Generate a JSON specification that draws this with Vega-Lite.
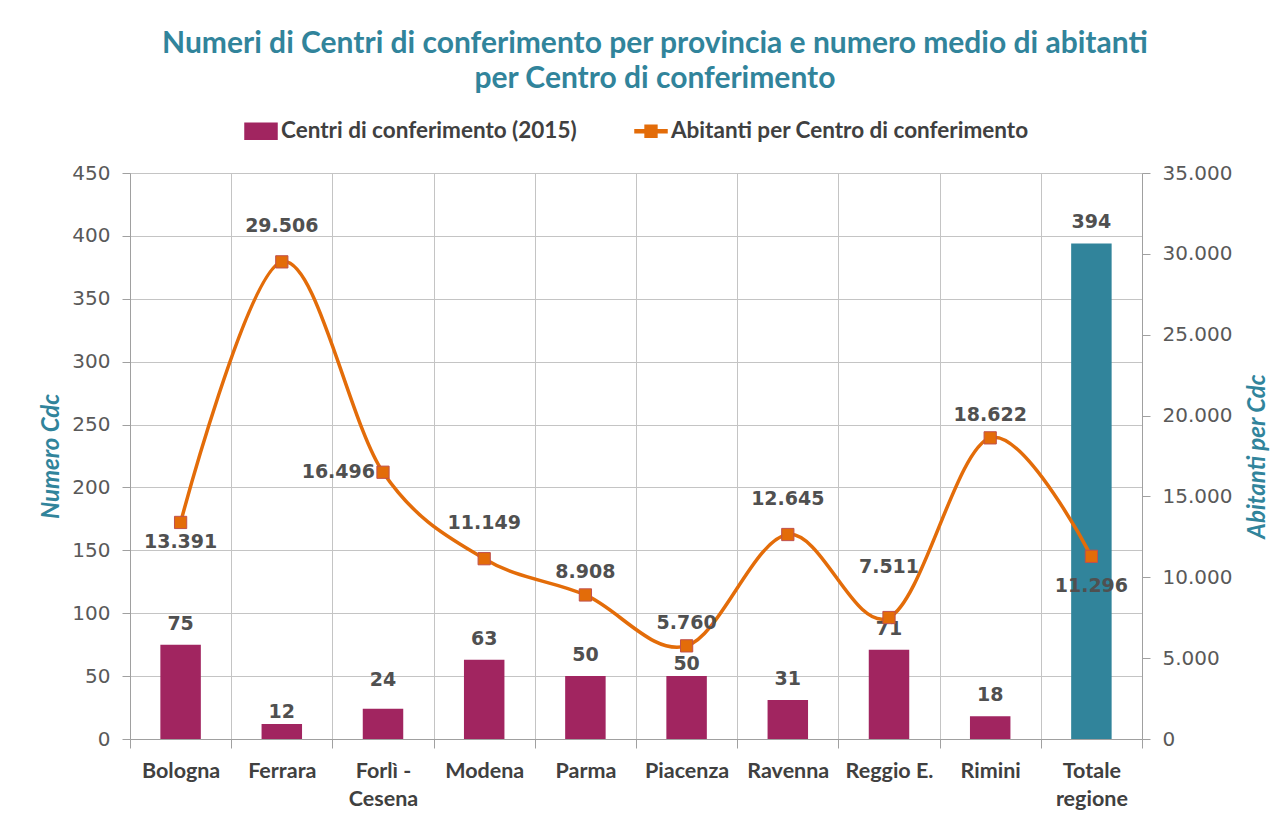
{
  "$schema": "https://vega.github.io/schema/vega-lite/v6.json",
  "width": 1012,
  "height": 566,
  "autosize": "none",
  "padding": {"left": 130, "top": 173, "right": 143, "bottom": 77},
  "background": "white",
  "title": {
    "text": ["Numeri di Centri di conferimento per provincia e numero medio di abitanti", "per Centro di conferimento"],
    "font": "Lato",
    "fontSize": 30,
    "fontWeight": "bold",
    "color": "#31849B",
    "lineHeight": 35,
    "anchor": "middle",
    "frame": "bounds",
    "offset": 20
  },
  "data": {
    "values": [
      {"provincia": "Bologna", "centri": 75, "abitanti": 13391},
      {"provincia": "Ferrara", "centri": 12, "abitanti": 29506},
      {"provincia": "Forlì - Cesena", "centri": 24, "abitanti": 16496},
      {"provincia": "Modena", "centri": 63, "abitanti": 11149},
      {"provincia": "Parma", "centri": 50, "abitanti": 8908},
      {"provincia": "Piacenza", "centri": 50, "abitanti": 5760},
      {"provincia": "Ravenna", "centri": 31, "abitanti": 12645},
      {"provincia": "Reggio E.", "centri": 71, "abitanti": 7511},
      {"provincia": "Rimini", "centri": 18, "abitanti": 18622},
      {"provincia": "Totale regione", "centri": 394, "abitanti": 11296}
    ]
  },
  "encoding": {
    "x": {
      "field": "provincia",
      "type": "nominal",
      "sort": null,
      "scale": {"paddingInner": 0, "paddingOuter": 0},
      "axis": {
        "title": null,
        "labelAngle": 0,
        "labelFont": "Lato",
        "labelFontWeight": "bold",
        "labelFontSize": 21.5,
        "labelColor": "#404040",
        "labelPadding": 12,
        "labelLineHeight": 28,
        "labelBaseline": "top",
        "labelExpr": "datum.value === 'Forlì - Cesena' ? ['Forlì -', 'Cesena'] : datum.value === 'Totale regione' ? ['Totale', 'regione'] : datum.value",
        "grid": true,
        "gridColor": "#C4C4C4",
        "bandPosition": 0,
        "tickBand": "extent",
        "tickSize": 9,
        "tickColor": "#A0A0A0",
        "domainColor": "#A0A0A0"
      }
    }
  },
  "layer": [
    {
      "encoding": {
        "y": {
          "field": "centri",
          "type": "quantitative",
          "scale": {"domain": [0, 450], "nice": false},
          "axis": {
            "title": "Numero Cdc",
            "values": [0, 50, 100, 150, 200, 250, 300, 350, 400, 450],
            "grid": true,
            "gridColor": "#C4C4C4",
            "labelFont": "DejaVu Sans",
            "labelFontSize": 20,
            "labelColor": "#595959",
            "labelPadding": 12,
            "tickSize": 8,
            "tickColor": "#A0A0A0",
            "domainColor": "#A0A0A0",
            "titleFont": "Lato",
            "titleFontSize": 24,
            "titleFontStyle": "italic",
            "titleFontWeight": "bold",
            "titleColor": "#31849B",
            "titlePadding": 8
          }
        }
      },
      "layer": [
        {
          "mark": {"type": "bar", "width": {"band": 0.4}},
          "encoding": {
            "color": {
              "condition": {"test": "datum.provincia === 'Totale regione'", "value": "#31849B"},
              "datum": "Centri di conferimento (2015)",
              "type": "nominal",
              "scale": {
                "domain": ["Centri di conferimento (2015)", "Abitanti per Centro di conferimento"],
                "range": ["#A12560", "#E36C09"]
              },
              "legend": {
                "title": null,
                "orient": "top",
                "direction": "horizontal",
                "offset": 30,
                "labelFont": "Lato",
                "labelFontWeight": "bold",
                "labelFontSize": 22.5,
                "labelColor": "#404040",
                "labelLimit": 0,
                "labelOffset": 3,
                "columnPadding": 55,
                "symbolSize": 1024,
                "encode": {
                  "symbols": {
                    "update": {
                      "shape": {"signal": "datum.value === 'Centri di conferimento (2015)' ? 'M-1,-0.5H1V0.5H-1Z' : 'M-1,-0.1H1V0.1H-1Z M-0.37,-0.37H0.37V0.37H-0.37Z'"},
                      "fill": {"signal": "datum.value === 'Centri di conferimento (2015)' ? '#A12560' : '#E36C09'"},
                      "fillOpacity": {"value": 1},
                      "stroke": {"value": "transparent"},
                      "opacity": {"value": 1}
                    }
                  }
                }
              }
            }
          }
        },
        {
          "transform": [{"filter": "datum.provincia !== 'Ferrara' && datum.provincia !== 'Piacenza' && datum.provincia !== 'Forlì - Cesena'"}],
          "mark": {"type": "text", "baseline": "middle", "dy": -21, "font": "DejaVu Sans", "fontWeight": "bold", "fontSize": 19, "color": "#505050"},
          "encoding": {"text": {"field": "centri", "type": "quantitative"}}
        },
        {
          "transform": [{"filter": "datum.provincia === 'Ferrara' || datum.provincia === 'Piacenza'"}],
          "mark": {"type": "text", "baseline": "middle", "dy": -12, "font": "DejaVu Sans", "fontWeight": "bold", "fontSize": 19, "color": "#505050"},
          "encoding": {"text": {"field": "centri", "type": "quantitative"}}
        },
        {
          "transform": [{"filter": "datum.provincia === 'Forlì - Cesena'"}],
          "mark": {"type": "text", "baseline": "middle", "dy": -29, "font": "DejaVu Sans", "fontWeight": "bold", "fontSize": 19, "color": "#505050"},
          "encoding": {"text": {"field": "centri", "type": "quantitative"}}
        }
      ]
    },
    {
      "encoding": {
        "y": {
          "field": "abitanti",
          "type": "quantitative",
          "scale": {"domain": [0, 35000], "nice": false},
          "axis": {
            "orient": "right",
            "title": "Abitanti per Cdc",
            "titleAngle": 270,
            "titleBaseline": "top",
            "values": [0, 5000, 10000, 15000, 20000, 25000, 30000, 35000],
            "format": ",d",
            "grid": false,
            "labelFont": "DejaVu Sans",
            "labelFontSize": 20,
            "labelColor": "#595959",
            "labelPadding": 12,
            "tickSize": 8,
            "tickColor": "#A0A0A0",
            "domainColor": "#A0A0A0",
            "titleFont": "Lato",
            "titleFontSize": 24,
            "titleFontStyle": "italic",
            "titleFontWeight": "bold",
            "titleColor": "#31849B",
            "titlePadding": 14
          }
        }
      },
      "layer": [
        {
          "mark": {"type": "line", "interpolate": "cardinal", "strokeWidth": 3.5},
          "encoding": {"color": {"datum": "Abitanti per Centro di conferimento", "type": "nominal"}}
        },
        {
          "mark": {"type": "point", "shape": "square", "size": 150, "filled": true, "fill": "#E36C09", "stroke": "#C0504D", "strokeWidth": 1, "opacity": 1}
        },
        {
          "transform": [{"filter": "datum.provincia === 'Parma' || datum.provincia === 'Piacenza' || datum.provincia === 'Rimini'"}],
          "mark": {"type": "text", "baseline": "middle", "dy": -23, "font": "DejaVu Sans", "fontWeight": "bold", "fontSize": 19, "color": "#505050"},
          "encoding": {"text": {"field": "abitanti", "type": "quantitative", "format": ",d"}}
        },
        {
          "transform": [{"filter": "datum.provincia === 'Ferrara' || datum.provincia === 'Modena' || datum.provincia === 'Ravenna'"}],
          "mark": {"type": "text", "baseline": "middle", "dy": -36, "font": "DejaVu Sans", "fontWeight": "bold", "fontSize": 19, "color": "#505050"},
          "encoding": {"text": {"field": "abitanti", "type": "quantitative", "format": ",d"}}
        },
        {
          "transform": [{"filter": "datum.provincia === 'Reggio E.'"}],
          "mark": {"type": "text", "baseline": "middle", "dy": -51, "font": "DejaVu Sans", "fontWeight": "bold", "fontSize": 19, "color": "#505050"},
          "encoding": {"text": {"field": "abitanti", "type": "quantitative", "format": ",d"}}
        },
        {
          "transform": [{"filter": "datum.provincia === 'Bologna'"}],
          "mark": {"type": "text", "baseline": "middle", "dy": 20, "font": "DejaVu Sans", "fontWeight": "bold", "fontSize": 19, "color": "#505050"},
          "encoding": {"text": {"field": "abitanti", "type": "quantitative", "format": ",d"}}
        },
        {
          "transform": [{"filter": "datum.provincia === 'Totale regione'"}],
          "mark": {"type": "text", "baseline": "middle", "dy": 30, "font": "DejaVu Sans", "fontWeight": "bold", "fontSize": 19, "color": "#505050"},
          "encoding": {"text": {"field": "abitanti", "type": "quantitative", "format": ",d"}}
        },
        {
          "transform": [{"filter": "datum.provincia === 'Forlì - Cesena'"}],
          "mark": {"type": "text", "baseline": "middle", "align": "right", "dx": -8, "font": "DejaVu Sans", "fontWeight": "bold", "fontSize": 19, "color": "#505050"},
          "encoding": {"text": {"field": "abitanti", "type": "quantitative", "format": ",d"}}
        }
      ]
    }
  ],
  "resolve": {"scale": {"y": "independent"}},
  "config": {
    "locale": {"number": {"decimal": ",", "thousands": ".", "grouping": [3], "currency": ["€", ""]}},
    "view": {"stroke": null},
    "legend": {"layout": {"top": {"anchor": "middle"}}}
  }
}
